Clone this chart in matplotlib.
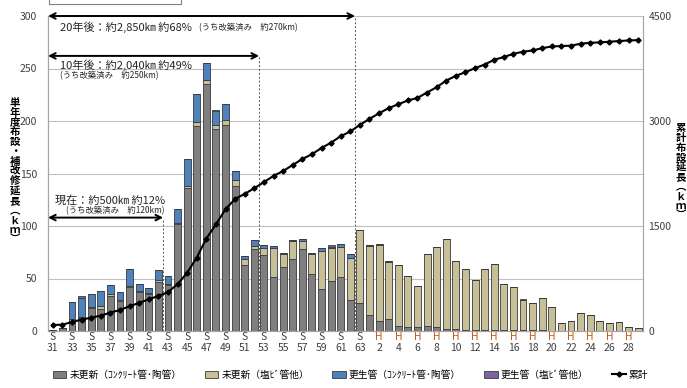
import numpy as np
import matplotlib.pyplot as plt
from matplotlib.patches import Rectangle, Patch
from matplotlib.lines import Line2D
from matplotlib.transforms import blended_transform_factory

plt.rcParams['font.family'] = ['Noto Sans CJK JP', 'DejaVu Sans']

# ── data (km per year) ───────────────────────────────────────────────────────
era = ['S'] * 33 + ['H'] * 29
year = list(range(31, 64)) + list(range(1, 30))

# 未更新（ｺﾝｸﾘｰﾄ管･陶管）
gray = [1, 3, 10, 12, 22, 21, 33, 29, 42, 37, 35, 47, 44, 102, 136, 195, 235, 192, 196, 138,
        63, 78, 72, 51, 61, 69, 78, 54, 40, 48, 51, 30, 27, 15, 10, 11, 5, 4, 4, 5,
        4, 2, 2, 1, 1, 1, 1, 0.5, 0.5, 0.5, 0.5, 0.5, 0, 0, 0, 0, 0, 0, 0, 0, 0, 0]
# 未更新（塩ﾋﾞ管他）
tan = [0, 0, 1, 1, 1, 3, 2, 1, 1, 1, 1, 2, 1, 1, 2, 4, 4, 4, 5, 6,
       6, 3, 7, 28, 12, 17, 8, 19, 36, 31, 29, 40, 69, 66, 72, 55, 58, 48, 39, 68,
       76, 86, 65, 58, 48, 58, 63, 44, 41, 29.5, 26.5, 31, 23, 8, 10, 17, 15, 10, 8, 9, 4, 3]
# 更生管（ｺﾝｸﾘｰﾄ管･陶管）
blue = [0, 0, 17, 18, 12.5, 14, 9, 7, 16, 7, 5, 9, 7, 13, 26, 27, 16, 14, 15, 8,
        2, 6, 3, 2, 1, 1, 2, 1, 3, 1, 3, 3, 0.5, 0.5, 0.5, 0.5, 0, 0, 0, 0,
        0, 0, 0, 0, 0, 0, 0, 0, 0, 0, 0, 0, 0, 0, 0, 0, 0, 0, 0, 0, 0, 0]
# 更生管（塩ﾋﾞ管他）
purple = [0, 0, 0, 2, 0, 0, 0, 0, 0, 0, 0, 0, 0, 0, 0, 0, 0, 0, 0, 0,
          0, 0, 0, 0, 0, 0, 0, 0, 0, 2, 0, 0, 0, 0, 0, 0, 0, 0, 0, 0,
          0, 0, 0, 0, 0, 0, 0, 0, 0, 0, 0, 0, 0, 0, 0, 0, 0, 0, 0, 0, 0, 0]
# 累計 (km)
total_km = [86, 90, 129, 162, 191, 219, 263, 300, 354, 402, 453, 500, 555, 669, 831, 1050,
            1320, 1524, 1740, 1887, 1959, 2040, 2127, 2216, 2285, 2372, 2457, 2525, 2615, 2691,
            2783, 2850, 2945, 3030, 3111, 3183, 3240, 3293, 3330, 3407, 3483, 3578, 3645, 3698,
            3755, 3807, 3875, 3914, 3960, 3990, 4008, 4041, 4065, 4071, 4076, 4104, 4118, 4122,
            4133, 4142, 4151, 4155]

series_labels = ['未更新（ｺﾝｸﾘｰﾄ管･陶管）', '未更新（塩ﾋﾞ管他）',
                 '更生管（ｺﾝｸﾘｰﾄ管･陶管）', '更生管（塩ﾋﾞ管他）']
line_label = '累計'
colors = ['#7f7f7f', '#c6bf98', '#4f81bd', '#8064a2']

# milestone arrows: (main text, sub text, boundary index, arrow level)
milestones = [
    ('20年後：約2,850㎞ 約68%', '(うち改築済み　約270km)', 31.5, 300),
    ('10年後：約2,040㎞ 約49%', '(うち改築済み　約250km)', 21.5, 262),
    ('現在：約500㎞ 約12%', '(うち改築済み　約120km)', 11.5, 108),
]

left_label = '単年度布設・補改修延長︵ｋｍ︶'
right_label = '累計布設延長︵ｋｍ︶'

# ── plot ─────────────────────────────────────────────────────────────────────
fig = plt.figure(figsize=(6.87, 3.88), dpi=100)
ax = fig.add_axes([48 / 687, 1 - 331 / 388, 595 / 687, 315 / 388])
ax2 = ax.twinx()

x = np.arange(len(gray))
bottom = np.zeros(len(gray))
for vals, c in zip([gray, tan, blue, purple], colors):
    ax.bar(x, vals, bottom=bottom, width=0.72, color=c, edgecolor='#3a3a3a',
           linewidth=0.6, zorder=3)
    bottom += np.array(vals)

ax2.plot(x, total_km, color='black', lw=1.5, marker='D', ms=2.6, zorder=5)

ax.set_xlim(-0.5, len(gray) - 0.5)
ax.set_ylim(0, 300)
ax2.set_ylim(0, 4500)
ax.set_yticks(np.arange(0, 301, 50))
ax2.set_yticks([0, 1500, 3000, 4500])
ax.set_xticks([])
ax.yaxis.grid(True, color='#c0c0c0', lw=0.8, zorder=0)
ax.set_axisbelow(True)
ax.tick_params(axis='y', length=0, labelsize=7.5, labelcolor='#404040', pad=8)
ax2.tick_params(axis='y', length=0, labelsize=7.5, labelcolor='#404040', pad=4)
for a in (ax, ax2):
    a.spines['top'].set_visible(False)
    for s in ('left', 'right', 'bottom'):
        a.spines[s].set_color('#a6a6a6')

# era / year labels
trans = blended_transform_factory(ax.transData, ax.transAxes)
for i in range(0, len(x), 2):
    ax.text(x[i], -0.02, era[i], transform=trans, ha='center', va='center',
            fontsize=7.5, color='#404040' if era[i] == 'S' else '#c55a11')
    ax.text(x[i], -0.055, str(year[i]), transform=trans, ha='center', va='center',
            fontsize=7.5, color='#404040')

# milestone arrows and notes
for main, sub, xb, ya in milestones:
    ax.annotate('', xy=(-0.5, ya), xytext=(xb, ya), annotation_clip=False,
                arrowprops=dict(arrowstyle='<->', lw=1.4, color='black',
                                shrinkA=0, shrinkB=0), zorder=6)
    ax.plot([xb, xb], [0, ya], color='#555555', lw=0.7, ls=(0, (2, 2)), zorder=4)

ax.text(0.75, 289, milestones[0][0], fontsize=8, va='center', color='#262626')
ax.text(15.2, 289, milestones[0][1], fontsize=6, va='center', color='#262626')
ax.text(0.75, 253, milestones[1][0], fontsize=8, va='center', color='#262626')
ax.text(0.75, 243, milestones[1][1], fontsize=6, va='center', color='#262626')
ax.text(0.2, 124, milestones[2][0], fontsize=8, va='center', color='#262626')
ax.text(1.4, 115, milestones[2][1], fontsize=6, va='center', color='#262626')

# vertical axis titles, one character per row
def vertical_title(text, xpix, ytop, step=9.8):
    for k, ch in enumerate(text):
        fig.text(xpix / 687, 1 - (ytop + k * step) / 388, ch, ha='center',
                 va='center', fontsize=7.5, fontweight='bold')

vertical_title(left_label, 15, 103)
vertical_title(right_label, 681, 128)

# cut-off box at the top
fig.add_artist(Rectangle((49 / 687, 1 - 4 / 388), 132 / 687, 0.1,
                         transform=fig.transFigure, fill=False,
                         edgecolor='#808080', lw=0.8))

handles = [Patch(facecolor=c, edgecolor='#3a3a3a', lw=0.6) for c in colors]
handles.append(Line2D([], [], color='black', lw=1.5, marker='D', ms=2.6))
fig.legend(handles, series_labels + [line_label], loc='center',
           bbox_to_anchor=(0.51, 1 - 375 / 388), ncol=5, frameon=False, fontsize=7,
           handlelength=1.4, handleheight=0.8, columnspacing=2.4, handletextpad=0.3)

fig.savefig('out.png', dpi=100)
